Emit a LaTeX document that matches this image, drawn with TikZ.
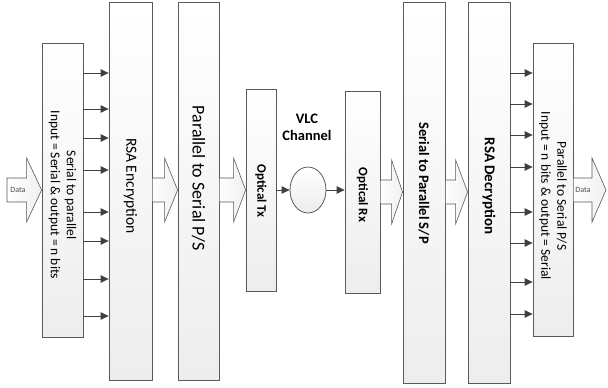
\documentclass[tikz,border=0pt]{standalone}
\usepackage{fontspec}
\setmainfont{Carlito}
\usetikzlibrary{arrows.meta,calc,shapes.geometric}
\definecolor{edgegray}{HTML}{5A5A5A}
\definecolor{arrgray}{HTML}{404040}
\tikzset{
  box/.style={draw=edgegray, line width=0.8pt, top color=white, bottom color=gray!14, inner sep=0pt, minimum width=#1},
  lbl/.style={rotate=-90, font=#1, inner sep=0pt, align=center},
  conn/.style={draw=arrgray, line width=0.8pt, -{Triangle[length=8pt,width=7.5pt]}},
  barrow/.style={draw=gray!70!black, line width=0.6pt, left color=white, right color=gray!12},
}
% block arrow: #1 start point, #2 tip point, #3 head length (pt)
\newcommand\blockarr[3]{%
  \draw[barrow] let \p1=(#1), \p2=(#2) in
    (\x1,\y2+12pt) -- ({\x2-#3pt},\y2+12pt) -- ({\x2-#3pt},\y2+32pt) -- (\x2,\y2)
    -- ({\x2-#3pt},\y2-32pt) -- ({\x2-#3pt},\y2-12pt) -- (\x1,\y2-12pt) -- cycle;}
\begin{document}
\begin{tikzpicture}[x=1pt,y=-1pt]
\useasboundingbox (0,0) rectangle (608,388);
% boxes
\node[box=41pt, minimum height=294pt] (s2p) at (62.5,190) {};
\node[box=43pt, minimum height=378pt] (rsae) at (130.5,191) {};
\node[box=41pt, minimum height=378pt] (p2s) at (198.5,191) {};
\node[box=30pt, minimum height=202pt] (tx) at (261,190) {};
\node[ellipse, draw=edgegray, line width=0.8pt, top color=white, bottom color=gray!14, minimum width=36pt, minimum height=46pt, inner sep=0pt] (ch) at (308,190) {};
\node[box=35pt, minimum height=202pt] (rx) at (362.5,192) {};
\node[box=42pt, minimum height=381pt] (sp) at (424,192.5) {};
\node[box=42pt, minimum height=381pt] (rsad) at (489,192.5) {};
\node[box=40pt, minimum height=293pt] (ps) at (553,189.5) {};
% labels
\node[lbl=\fontsize{13.5}{16}\selectfont] (s2pt) at (62.5,195) {Serial to parallel\\Input = Serial \& output = n bits};
\node[lbl=\fontsize{15.5}{19}\selectfont] (rsaet) at (130.5,186) {RSA Encryption};
\node[lbl=\fontsize{18}{21}\selectfont] (p2st) at (198.5,178) {Parallel to Serial P/S};
\node[lbl=\fontsize{13}{16}\selectfont\bfseries] (txt) at (261,191) {Optical Tx};
\node[lbl=\fontsize{13}{16}\selectfont\bfseries] (rxt) at (362.5,195) {Optical Rx};
\node[lbl=\fontsize{14.5}{17}\selectfont\bfseries] (spt) at (424,183) {Serial to Parallel S/P};
\node[lbl=\fontsize{15}{18}\selectfont\bfseries] (rsadt) at (489,186) {RSA Decryption};
\node[lbl=\fontsize{13.5}{16}\selectfont] (pst) at (553,196) {Parallel to Serial P/S\\Input = n bits \& output = Serial};
\node[font=\fontsize{14.5}{17}\selectfont\bfseries, align=center, inner sep=0pt] (vlc) at (307,127) {VLC\\Channel};
% parallel lines
\foreach \yy in {73,109,138,170,212,241,279,316}
  \draw[conn] (s2p.east |- 0,\yy) -- (rsae.west |- 0,\yy);
\foreach \yy in {73,104,135,167,212,243,282,314}
  \draw[conn] (rsad.east |- 0,\yy) -- (ps.west |- 0,\yy);
% channel
\draw[conn] (tx.east |- ch.west) -- (ch.west);
\draw[conn] (ch.east) -- (ch.east -| rx.west);
% block arrows
\coordinate (din) at (7,190);
\coordinate (dout) at (606,190);
\blockarr{din}{s2p.west |- din}{15}
\node[font=\fontsize{8}{9}\selectfont, text=gray!60!black] (dinl) at (18,190) {Data};
\blockarr{rsae.east}{p2s.west |- 0,190}{13}
\blockarr{p2s.east}{tx.west |- 0,190}{12}
\blockarr{rx.east}{sp.west |- 0,192}{11}
\blockarr{sp.east}{rsad.west |- 0,192}{12}
\blockarr{ps.east}{dout}{14}
\node[font=\fontsize{8}{9}\selectfont, text=gray!60!black] (doutl) at (583,190) {Data};
\end{tikzpicture}
\end{document}
